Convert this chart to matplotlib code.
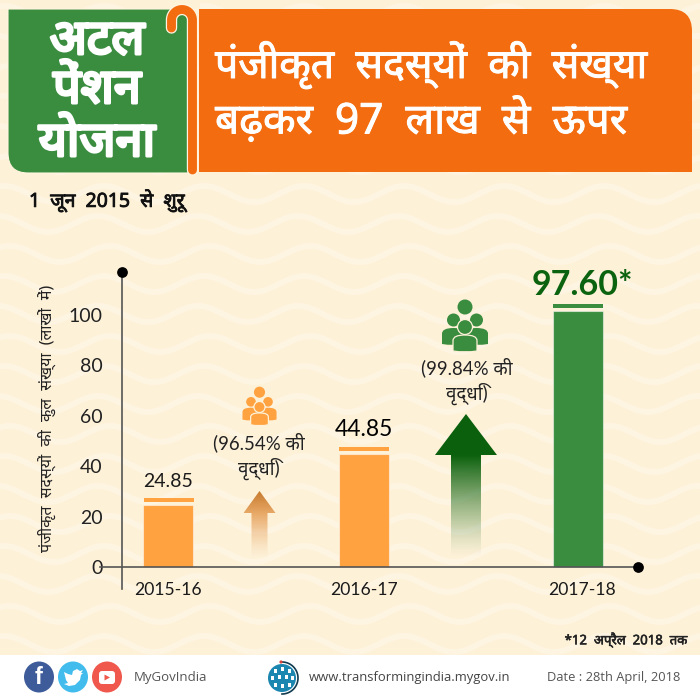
import numpy as np
import matplotlib
matplotlib.use('Agg')
import matplotlib.pyplot as plt
import matplotlib.patheffects as pe
from matplotlib.patches import Circle, FancyBboxPatch, Polygon, Rectangle, PathPatch, Ellipse
from matplotlib.path import Path

# ---- data ----
years = ['2015-16', '2016-17', '2017-18']
value_labels = ['24.85', '44.85', '97.60*']
bar_heights = [24.7, 44.8, 101.6]     # heights as drawn in the reference
bar_colors = ['#FFA23F', '#FFA23F', '#3A8C3F']
y_ticks = [0, 20, 40, 60, 80, 100]
growth_labels = ['(96.54% की\nवृद्धि)', '(99.84% की\nवृद्धि)']

LAT = ['Lato', 'Noto Sans']
HI = ['Noto Sans', 'DejaVu Sans']
OS = ['Open Sans', 'Noto Sans']

def heavy(w, color):
    return [pe.withStroke(linewidth=w, foreground=color)]

fig = plt.figure(figsize=(7, 7), dpi=100)
bg = fig.add_axes([0, 0, 1, 1])
bg.set_xlim(0, 700); bg.set_ylim(700, 0); bg.axis('off')

# ---- paper background ----
PAPER = '#FDF1D8'
bg.add_patch(Rectangle((0, 0), 700, 655, fc=PAPER, ec='none', zorder=0))
xs = np.linspace(-10, 710, 500)
for k, y0 in enumerate(range(-16, 680, 30)):
    ys = y0 + 8 * np.sin(2 * np.pi * (xs - 235 + 6 * (k % 3)) / 100)
    bg.plot(xs, ys, color='#FFF7E8', lw=4.2, alpha=0.65, zorder=0.5, solid_capstyle='butt')
bg.add_patch(Rectangle((0, 655), 700, 45, fc='white', ec='none', zorder=1))

# ---- header ----
GREEN = '#3A8C3F'; ORANGE = '#F36C0F'
M, L, C3, Z = Path.MOVETO, Path.LINETO, Path.CURVE3, Path.CLOSEPOLY
def rounded_poly(pts_codes, **kw):
    v, c = zip(*pts_codes)
    return PathPatch(Path(v, c), **kw)
bg.add_patch(rounded_poly([((8, 9), M), ((188, 9), L), ((188, 173), L), ((28, 173), L),
                           ((8, 173), C3), ((8, 153), C3), ((8, 9), L), ((8, 9), Z)],
                          fc=GREEN, ec='#FFF5E0', lw=0.8, zorder=2))
bg.add_patch(rounded_poly([((199, 9), M), ((670, 9), L), ((692, 9), C3), ((692, 31), C3),
                           ((692, 172), L), ((199, 172), L), ((199, 9), Z)],
                          fc=ORANGE, ec='none', zorder=2))
# separator and cane with hook
t = np.linspace(0, np.pi, 40)
hook_x = np.r_[192.5, 192.5, 182 + 10.5 * np.cos(t), 171.5]
hook_y = np.r_[170, 20, 20 - 10.5 * np.sin(t), 28]
bg.plot(hook_x, hook_y, color='#FFF5E0', lw=8.2, zorder=3, solid_capstyle='round', solid_joinstyle='round')
bg.add_patch(Rectangle((160, 0), 40, 9, fc=PAPER, ec='none', zorder=2.5))
bg.plot(hook_x, hook_y, color=ORANGE, lw=6.4, zorder=4, solid_capstyle='round', solid_joinstyle='round')

for txt, y in zip(['अटल', 'पेंशन', 'योजना'], [41, 90, 143]):
    bg.text(97, y, txt, family=HI, fontsize=35, color='white', ha='center', va='center', zorder=5,
            path_effects=heavy(2.2, 'white'))
bg.text(215, 65, 'पंजीकृत  सदस्यों  की  संख्या', family=HI, fontsize=29.5, color='white', ha='left', va='center', zorder=5,
        path_effects=heavy(0.7, 'white'))
bg.text(215, 121, 'बढ़कर  97  लाख  से  ऊपर', family=HI, fontsize=30.5, color='white', ha='left', va='center', zorder=5,
        path_effects=heavy(0.7, 'white'))
bg.text(29, 201, '1  जून  2015  से  शुरू', family=HI, fontsize=14, color='#111111', ha='left', va='center', zorder=5,
        path_effects=heavy(0.6, '#111111'))

# ---- chart axes ----
ax = fig.add_axes([100 / 700, 1 - 589 / 700, 538 / 700, (589 - 272) / 700], zorder=2)
ax.patch.set_alpha(0)
ax.set_xlim(100, 638)
ax.set_ylim((567 - 589) / 2.52, (567 - 272) / 2.52)
bar_x = [168, 364, 578]
label_x = [168, 364.5, 582.5]
ax.bar(bar_x, bar_heights, width=50, color=bar_colors, edgecolor='#FFFFFF80', linewidth=0.8, zorder=2)
cap_x = [168.5, 364, 578]
ax.bar(cap_x, [1.6] * 3, bottom=[h + 1.2 for h in bar_heights], width=50, color=bar_colors, zorder=2)
for s in ['top', 'right']:
    ax.spines[s].set_visible(False)
ax.spines['left'].set_position(('data', 122))
ax.spines['bottom'].set_position(('data', 0))
for s in ['left', 'bottom']:
    ax.spines[s].set_color('#555555'); ax.spines[s].set_linewidth(1.2); ax.spines[s].set_zorder(3)
ax.set_yticks(y_ticks)
ax.set_yticklabels([str(v) for v in y_ticks], family=LAT, fontsize=14, color='#222222')
ax.tick_params(axis='y', length=0, pad=14)
ax.set_xticks(label_x)
ax.set_xticklabels(years, family=LAT, fontsize=12.6, color='#1a1a1a')
ax.tick_params(axis='x', length=0, pad=11)
ax.scatter([122], [ax.get_ylim()[1]], s=45, color='black', clip_on=False, zorder=5)
ax.scatter([638], [0], s=45, color='black', clip_on=False, zorder=5)

ax.text(168, 30.5, value_labels[0], family=LAT, fontsize=14, color='#1a1a1a', ha='center', va='bottom')
ax.text(364, 50.4, value_labels[1], family=LAT, fontsize=16.5, color='black', ha='center', va='bottom')
ax.text(582.5, 105.4, value_labels[2], family=LAT, weight='bold', fontsize=24.5, color='#0B620F', ha='center', va='bottom')

bg.text(47, 418, 'पंजीकृत  सदस्यों  की  कुल  संख्या  (लाखों  में)', family=HI, fontsize=11.5, color='#222222',
        rotation=90, ha='center', va='center', zorder=5)

# ---- growth labels ----
bg.text(259, 456, growth_labels[0], family=LAT, fontsize=13.4, color='#222222', ha='center', va='center',
        linespacing=1.35, zorder=5)
bg.text(467, 381, growth_labels[1], family=LAT, fontsize=13.4, color='#222222', ha='center', va='center',
        linespacing=1.35, zorder=5)

# ---- gradient arrows ----
def arrow(cx, top, head_base, bottom, half_head, half_shaft, rgb_top, rgb_mid):
    n = 200
    a = np.zeros((n, 2, 4))
    for i in range(n):
        y = top + (bottom - top) * i / (n - 1)
        if y <= head_base:
            f = (y - top) / (head_base - top)
            col = np.array(rgb_top) * (1 - f) + np.array(rgb_mid) * f
            al = 1
        else:
            f = (y - head_base) / (bottom - head_base)
            col = rgb_mid
            al = max(0, 1 - f) ** 1.3
        a[i, :, :3] = col; a[i, :, 3] = al
    im = bg.imshow(a, extent=(cx - half_head, cx + half_head, bottom, top), zorder=3, aspect='auto', interpolation='bilinear')
    poly = Polygon([(cx, top), (cx + half_head, head_base), (cx + half_shaft, head_base), (cx + half_shaft, bottom),
                    (cx - half_shaft, bottom), (cx - half_shaft, head_base), (cx - half_head, head_base)],
                   closed=True, transform=bg.transData, fc='none', ec='none')
    bg.add_patch(poly)
    im.set_clip_path(poly)
arrow(259.5, 491, 513, 558, 16, 8, (0.78, 0.48, 0.18), (0.91, 0.66, 0.40))
arrow(466, 414, 455, 558, 31, 15, (0.04, 0.38, 0.05), (0.04, 0.38, 0.05))
bg.set_xlim(0, 700); bg.set_ylim(700, 0)

# ---- people icons ----
def body(cx, top, hw, bot, color, ec='none'):
    v = [(cx - hw, bot), (cx - hw, top + (bot - top) * .35), (cx - hw, top), (cx, top), (cx + hw, top),
         (cx + hw, top + (bot - top) * .35), (cx + hw, bot), (cx, bot + 2), (cx - hw, bot), (cx - hw, bot)]
    c = [M, L, C3, C3, C3, C3, L, C3, C3, Z]
    return PathPatch(Path(v, c), fc=color, ec=ec, lw=0.9, zorder=6)
def people(cx, cy, s, color):
    edge = PAPER
    bg.add_patch(Circle((cx, cy - 20 * s), 7.5 * s, fc=color, ec='none', zorder=6))
    for d in (-11.5, 11.5):
        bg.add_patch(Circle((cx + d * s, cy - 7 * s), 6.5 * s, fc=color, ec='none', zorder=6))
        bg.add_patch(body(cx + d * s, cy + 1 * s, 11.5 * s, cy + 17 * s, color))
    bg.add_patch(body(cx, cy + 8 * s, 12 * s, cy + 24 * s, color, edge))
    bg.add_patch(Circle((cx, cy), 7.5 * s, fc=color, ec=edge, lw=0.9, zorder=6))
people(465, 327, 1.0, GREEN)
people(259.5, 407, 0.74, '#FFA23F')

# ---- footnote and footer ----
bg.text(687, 640, '*12  अप्रैल  2018  तक', family=HI, fontsize=9.5, color='#222222', ha='right', va='center', zorder=5,
        path_effects=heavy(0.4, '#222222'))
bg.add_patch(Ellipse((39, 677), 30, 31, fc='#3F5C9A', ec='none', zorder=5))
bg.text(39, 678, 'f', family='Liberation Sans', weight='bold', fontsize=17, color='white', ha='center', va='center', zorder=6)
bg.add_patch(Ellipse((73, 677), 30, 31, fc='#41BCEC', ec='none', zorder=5))
bird = [(64, 672), (68, 674), (72, 675), (73, 671), (77, 669), (80, 671), (83, 670), (81, 673), (83, 673),
        (81, 675), (80, 680), (75, 685), (69, 686), (64, 684), (68, 683), (66, 680), (65, 676)]
bg.add_patch(Polygon(bird, closed=True, fc='white', ec='none', zorder=6))
bg.add_patch(Ellipse((107, 677), 30, 31, fc='#F0584D', ec='none', zorder=5))
bg.add_patch(FancyBboxPatch((99, 671), 16, 13, boxstyle='round,pad=0,rounding_size=3', fc='white', ec='none', zorder=6))
bg.add_patch(Polygon([(104.5, 674.5), (104.5, 680.5), (110, 677.5)], closed=True, fc='#F0584D', ec='none', zorder=7))
bg.text(134, 677, 'MyGovIndia', family=OS, fontsize=9.5, color='#555555', ha='left', va='center', zorder=5)

bg.add_patch(Circle((282, 678), 14, fc='#1B86B0', ec='none', zorder=5))
for gx, gy in [(275, 671), (282, 669), (289, 671), (272, 678), (279, 677), (286, 677), (292, 678), (275, 685), (282, 686), (289, 685)]:
    bg.add_patch(Rectangle((gx - 1.5, gy - 2), 3, 4, fc='white', ec='none', zorder=6))
th = np.linspace(-np.pi / 2, np.pi / 2, 40)
bg.plot(282 + 16 * np.cos(th), 678 + 16 * np.sin(th), color='#123B50', lw=1.2, zorder=6)
bg.add_patch(Circle((281, 662), 1.6, fc='#D9453A', ec='none', zorder=7))
bg.text(309, 677, 'www.transformingindia.mygov.in', family=OS, fontsize=9.4, color='#444444', ha='left', va='center', zorder=5)
bg.text(547, 678, 'Date : 28th April, 2018', family=OS, fontsize=9.3, color='#555555', ha='left', va='center', zorder=5)

fig.savefig('out.png', dpi=100)
